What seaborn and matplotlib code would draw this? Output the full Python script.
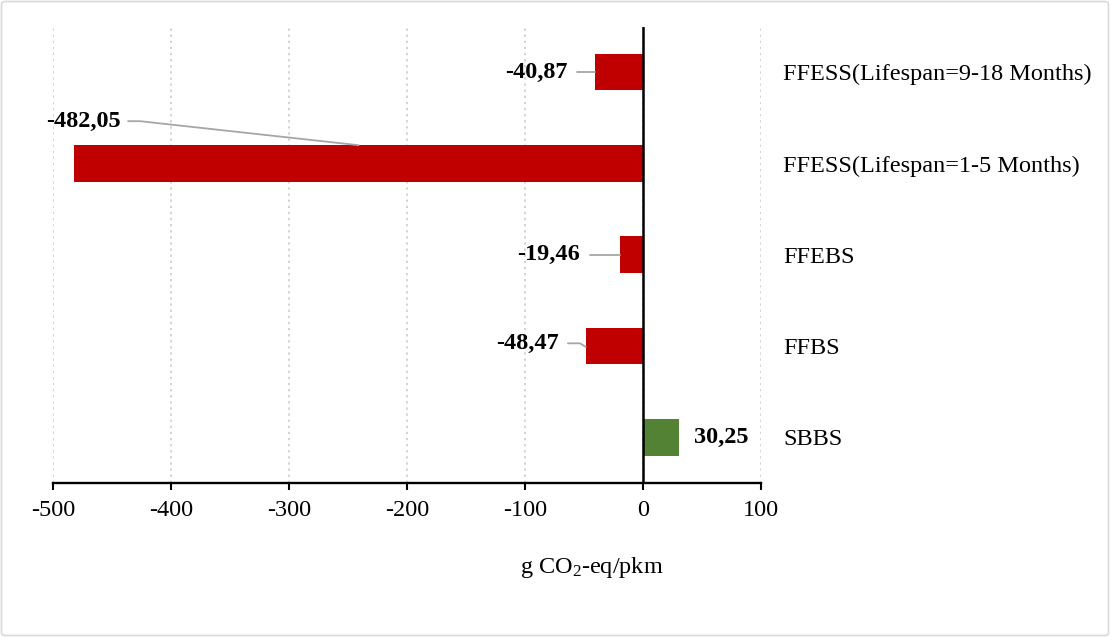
import matplotlib
matplotlib.use("Agg")
import matplotlib.pyplot as plt
from matplotlib.patches import FancyBboxPatch
import seaborn as sns
import pandas as pd

# Life-cycle emissions per passenger-km for each sharing scheme
categories = [
    "FFESS(Lifespan=9-18 Months)",
    "FFESS(Lifespan=1-5 Months)",
    "FFEBS",
    "FFBS",
    "SBBS",
]
values = [-40.87, -482.05, -19.46, -48.47, 30.25]
value_labels = ["-40,87", "-482,05", "-19,46", "-48,47", "30,25"]
x_ticks = [-500, -400, -300, -200, -100, 0, 100]

RED = "#C00000"
GREEN = "#548235"
bar_colors = [RED if v < 0 else GREEN for v in values]

sns.set_theme(style="white")
plt.rcParams["font.family"] = ["Liberation Serif", "DejaVu Serif"]
plt.rcParams["mathtext.fontset"] = "custom"
plt.rcParams["mathtext.rm"] = "Liberation Serif"
plt.rcParams["mathtext.it"] = "Liberation Serif:italic"
plt.rcParams["text.color"] = "black"
plt.rcParams["xtick.color"] = "black"
plt.rcParams["ytick.color"] = "black"
plt.rcParams["xtick.labelcolor"] = "black"
plt.rcParams["ytick.labelcolor"] = "black"

FS = 17.5

df = pd.DataFrame({"category": categories, "value": values})

fig = plt.figure(figsize=(11.1, 6.37), dpi=100)
ax = fig.add_axes([53 / 1110, 1 - 483 / 637, (761 - 53) / 1110, (483 - 26.5) / 637])

BAR_W = 0.4
sns.barplot(
    data=df, x="value", y="category", hue="category",
    palette=bar_colors, order=categories, hue_order=categories,
    width=BAR_W, orient="h", legend=False, ax=ax, saturation=1,
    edgecolor="none",
)

ax.set_xlim(-500, 100)
ax.set_ylim(len(categories) - 0.5, -0.5)
ax.set_xticks(x_ticks)
ax.set_xticklabels([str(t) for t in x_ticks])
ax.set_xlabel("")
ax.set_ylabel("")

# dotted vertical gridlines
ax.xaxis.grid(True, linestyle=(0, (1.5, 2.5)), color="#c8c8c8", linewidth=1.1)
ax.set_axisbelow(True)

# zero line
ax.axvline(0, color="black", linewidth=1.8, zorder=3)

for side in ["top", "left", "right"]:
    ax.spines[side].set_visible(False)
ax.spines["bottom"].set_color("black")
ax.spines["bottom"].set_linewidth(1.7)

ax.tick_params(axis="x", direction="out", length=5, width=1.5, color="black",
               labelsize=FS, pad=7, bottom=True, labelcolor="black")
ax.yaxis.tick_right()
ax.tick_params(axis="y", length=0, pad=16, labelsize=FS, right=False,
               labelcolor="black")
for lbl in ax.get_yticklabels():
    lbl.set_horizontalalignment("left")

# data labels with leader lines
LEADER = "#a6a6a6"
# (label x, label y offset, alignment)
label_pos = {
    0: (-63.6, 0.0, "right"),
    1: (-443.0, -0.455, "right"),
    2: (-53.4, 0.0, "right"),
    3: (-71.2, -0.03, "right"),
    4: (43.2, 0.0, "left"),
}
for i, (v, txt) in enumerate(zip(values, value_labels)):
    lx, dy, ha = label_pos[i]
    ax.text(lx, i + dy, txt, ha=ha, va="center", fontsize=FS,
            fontweight="bold", color="black", zorder=5)

# leader lines from labels to bars
ax.plot([-55.9, values[0]], [0, 0], color=LEADER, lw=1.3, zorder=4)
ax.plot([-436.4, -426.3, values[1] / 2], [1 - 0.463, 1 - 0.463, 1 - BAR_W / 2],
        color=LEADER, lw=1.3, zorder=4)
ax.plot([-44.9, values[2]], [2, 2], color=LEADER, lw=1.3, zorder=4)
ax.plot([-63.6, -53.4, values[3]], [3 - 0.03, 3 - 0.03, 3 + 0.01],
        color=LEADER, lw=1.3, zorder=4)

fig.text(592 / 1110, 1 - 568 / 637, r"g CO$_\mathrm{2}$-eq/pkm",
         ha="center", va="center", fontsize=FS, color="black")

# light frame around the figure
frame = FancyBboxPatch((1.5 / 1110, 1.5 / 637), 1 - 3 / 1110, 1 - 3 / 637,
                       boxstyle="round,pad=0,rounding_size=0.004",
                       transform=fig.transFigure, facecolor="none",
                       edgecolor="#d9d9d9", linewidth=1.2)
fig.patches.append(frame)

fig.savefig("out.png", dpi=100)
